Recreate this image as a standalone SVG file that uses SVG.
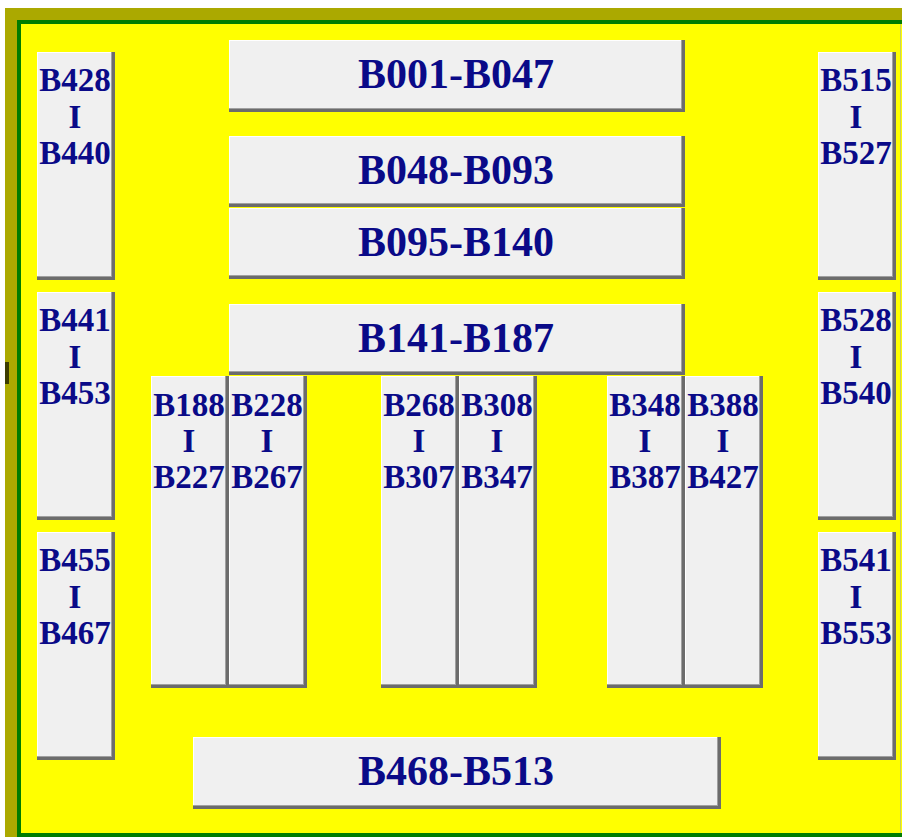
<svg xmlns="http://www.w3.org/2000/svg" width="902" height="837" viewBox="0 0 902 837">
<style>
.d{fill:#6c6c6c}.m{fill:#a0a0a0}.w{fill:#ffffff}.f{fill:#f0f0f0}
text{font-family:"Liberation Serif","Times New Roman",serif;font-weight:bold;fill:#0a0a88;text-anchor:middle}
.s{font-size:33px}.b{font-size:42px}
</style>
<rect x="0" y="0" width="902" height="837" fill="#ffffff"/>
<rect x="5" y="8" width="897" height="829" fill="#aba900"/>
<rect x="5" y="362" width="4" height="22" fill="#3c3c00"/>
<rect x="19" y="22" width="900" height="813" fill="#ffff00" stroke="#007c00" stroke-width="4"/>
<line x1="900.5" y1="24" x2="900.5" y2="833" stroke="#c8d060" stroke-width="1"/>

<g id="B428-B440">
<rect class="d" x="37" y="52" width="78" height="228"/><rect class="m" x="37" y="52" width="75" height="225"/><rect class="w" x="37" y="52" width="74" height="224"/><rect class="f" x="38" y="53" width="73" height="223"/>
<text class="s" x="75" y="91">B428</text><text class="s" x="75" y="128">I</text><text class="s" x="75" y="164">B440</text>
</g>
<g id="B441-B453">
<rect class="d" x="37" y="292" width="78" height="228"/><rect class="m" x="37" y="292" width="75" height="225"/><rect class="w" x="37" y="292" width="74" height="224"/><rect class="f" x="38" y="293" width="73" height="223"/>
<text class="s" x="75" y="331">B441</text><text class="s" x="75" y="368">I</text><text class="s" x="75" y="404">B453</text>
</g>
<g id="B455-B467">
<rect class="d" x="37" y="532" width="78" height="228"/><rect class="m" x="37" y="532" width="75" height="225"/><rect class="w" x="37" y="532" width="74" height="224"/><rect class="f" x="38" y="533" width="73" height="223"/>
<text class="s" x="75" y="571">B455</text><text class="s" x="75" y="608">I</text><text class="s" x="75" y="644">B467</text>
</g>
<g id="B515-B527">
<rect class="d" x="818" y="52" width="78" height="228"/><rect class="m" x="818" y="52" width="75" height="225"/><rect class="w" x="818" y="52" width="74" height="224"/><rect class="f" x="819" y="53" width="73" height="223"/>
<text class="s" x="856" y="91">B515</text><text class="s" x="856" y="128">I</text><text class="s" x="856" y="164">B527</text>
</g>
<g id="B528-B540">
<rect class="d" x="818" y="292" width="78" height="228"/><rect class="m" x="818" y="292" width="75" height="225"/><rect class="w" x="818" y="292" width="74" height="224"/><rect class="f" x="819" y="293" width="73" height="223"/>
<text class="s" x="856" y="331">B528</text><text class="s" x="856" y="368">I</text><text class="s" x="856" y="404">B540</text>
</g>
<g id="B541-B553">
<rect class="d" x="818" y="532" width="78" height="228"/><rect class="m" x="818" y="532" width="75" height="225"/><rect class="w" x="818" y="532" width="74" height="224"/><rect class="f" x="819" y="533" width="73" height="223"/>
<text class="s" x="856" y="571">B541</text><text class="s" x="856" y="608">I</text><text class="s" x="856" y="644">B553</text>
</g>

<g id="B001-B047">
<rect class="d" x="229" y="40" width="456" height="72"/><rect class="m" x="229" y="40" width="453" height="69"/><rect class="w" x="229" y="40" width="452" height="68"/><rect class="f" x="230" y="41" width="451" height="67"/>
<text class="b" x="456" y="88">B001-B047</text>
</g>
<g id="B048-B093">
<rect class="d" x="229" y="136" width="456" height="71"/><rect class="m" x="229" y="136" width="453" height="68"/><rect class="w" x="229" y="136" width="452" height="67"/><rect class="f" x="230" y="137" width="451" height="66"/>
<text class="b" x="456" y="184">B048-B093</text>
</g>
<g id="B095-B140">
<rect class="d" x="229" y="208" width="456" height="71"/><rect class="m" x="229" y="208" width="453" height="68"/><rect class="w" x="229" y="208" width="452" height="67"/><rect class="f" x="230" y="209" width="451" height="66"/>
<text class="b" x="456" y="256">B095-B140</text>
</g>
<g id="B141-B187">
<rect class="d" x="229" y="304" width="456" height="71"/><rect class="m" x="229" y="304" width="453" height="68"/><rect class="w" x="229" y="304" width="452" height="67"/><rect class="f" x="230" y="305" width="451" height="66"/>
<text class="b" x="456" y="352">B141-B187</text>
</g>

<g id="B188-B227">
<rect class="d" x="151" y="376" width="78" height="312"/><rect class="m" x="151" y="376" width="75" height="309"/><rect class="w" x="151" y="376" width="74" height="308"/><rect class="f" x="152" y="377" width="73" height="307"/>
<text class="s" x="189" y="416">B188</text><text class="s" x="189" y="452">I</text><text class="s" x="189" y="488">B227</text>
</g>
<g id="B228-B267">
<rect class="d" x="229" y="376" width="78" height="312"/><rect class="m" x="229" y="376" width="75" height="309"/><rect class="w" x="229" y="376" width="74" height="308"/><rect class="f" x="230" y="377" width="73" height="307"/>
<text class="s" x="267" y="416">B228</text><text class="s" x="267" y="452">I</text><text class="s" x="267" y="488">B267</text>
</g>
<g id="B268-B307">
<rect class="d" x="381" y="376" width="78" height="312"/><rect class="m" x="381" y="376" width="75" height="309"/><rect class="w" x="381" y="376" width="74" height="308"/><rect class="f" x="382" y="377" width="73" height="307"/>
<text class="s" x="419" y="416">B268</text><text class="s" x="419" y="452">I</text><text class="s" x="419" y="488">B307</text>
</g>
<g id="B308-B347">
<rect class="d" x="459" y="376" width="78" height="312"/><rect class="m" x="459" y="376" width="75" height="309"/><rect class="w" x="459" y="376" width="74" height="308"/><rect class="f" x="460" y="377" width="73" height="307"/>
<text class="s" x="497" y="416">B308</text><text class="s" x="497" y="452">I</text><text class="s" x="497" y="488">B347</text>
</g>
<g id="B348-B387">
<rect class="d" x="607" y="376" width="78" height="312"/><rect class="m" x="607" y="376" width="75" height="309"/><rect class="w" x="607" y="376" width="74" height="308"/><rect class="f" x="608" y="377" width="73" height="307"/>
<text class="s" x="645" y="416">B348</text><text class="s" x="645" y="452">I</text><text class="s" x="645" y="488">B387</text>
</g>
<g id="B388-B427">
<rect class="d" x="685" y="376" width="78" height="312"/><rect class="m" x="685" y="376" width="75" height="309"/><rect class="w" x="685" y="376" width="74" height="308"/><rect class="f" x="686" y="377" width="73" height="307"/>
<text class="s" x="723" y="416">B388</text><text class="s" x="723" y="452">I</text><text class="s" x="723" y="488">B427</text>
</g>

<g id="B468-B513">
<rect class="d" x="193" y="737" width="528" height="72"/><rect class="m" x="193" y="737" width="525" height="69"/><rect class="w" x="193" y="737" width="524" height="68"/><rect class="f" x="194" y="738" width="523" height="67"/>
<text class="b" x="456" y="785">B468-B513</text>
</g>
</svg>
